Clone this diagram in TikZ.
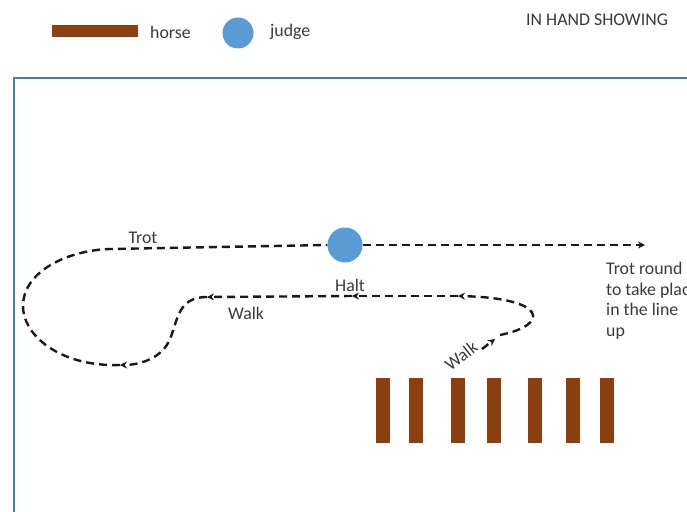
\documentclass[tikz,border=0pt]{standalone}
\usepackage{fontspec}
\setmainfont{Carlito}
\usetikzlibrary{arrows.meta}
\definecolor{horsebrown}{HTML}{8C3F10}
\definecolor{judgeblue}{HTML}{5B9BD5}
\definecolor{framecol}{HTML}{4F7AA8}
\definecolor{txt}{HTML}{3A3A3A}
\tikzset{
  lbl/.style={inner sep=0pt, text=txt, font=\fontsize{17.8}{20.5}\selectfont},
  horsebar/.style={fill=horsebrown, draw=none, minimum width=14pt, minimum height=65pt, inner sep=0pt},
  judgedot/.style={circle, fill=judgeblue, draw=none, inner sep=0pt},
  route/.style={draw=black!90, line width=2.4pt, dash pattern=on 8pt off 5pt},
  routearrow/.style={route, -{Stealth[length=7pt,width=7pt]}},
}
\begin{document}
\begin{tikzpicture}[x=1pt,y=-1pt]
\useasboundingbox (0,0) rectangle (687,511);
\clip (0,0) rectangle (687,511);
\fill[white] (0,0) rectangle (687,511);

% legend
\node[fill=horsebrown, minimum width=86pt, minimum height=12pt, inner sep=0pt] (leghorse) at (95,31) {};
\node[lbl, anchor=west] (leghorsetxt) at (150,32) {horse};
\node[judgedot, minimum size=31pt] (legjudge) at (238,33) {};
\node[lbl, anchor=west] (legjudgetxt) at (270,32) {judge};
\node[lbl, anchor=west] (title) at (526,20) {IN HAND SHOWING};

% arena
\draw[framecol, line width=2pt] (14,540) -- (14,78) -- (720,78);

% judge
\node[judgedot, minimum size=35pt] (J) at (345,245) {};

% route points
\coordinate (w0) at (482,349);
\coordinate (w1) at (495,339);
\coordinate (w2) at (500,335);
\coordinate (a1) at (458,296);
\coordinate (a2) at (352,296);
\coordinate (a3) at (207,297);
\coordinate (a4) at (120,365);
\coordinate (tl) at (110,249);
\coordinate (tend) at (645,245);

\draw[routearrow] (w0) -- (w1);
\draw[routearrow] (w2) .. controls (550,325) and (548,298) .. (a1);
\draw[routearrow] (a1) -- (a2);
\draw[routearrow] (a2) -- (a3);
\draw[routearrow] (a3) .. controls (175,297) and (178,325) .. (168,343)
                       .. controls (160,358) and (140,365) .. (a4);
\draw[route] (a4) .. controls (60,367) and (22,335) .. (23,305)
                  .. controls (24,270) and (70,250) .. (tl) -- (J.west);
\draw[routearrow] (J.east) -- (tend);

% labels
\node[lbl] (ltrot) at (143,238) {Trot};
\node[lbl] (lhalt) at (350,285) {Halt};
\node[lbl] (lwalk) at (246,313) {Walk};
\node[lbl, rotate=38] (lwalk2) at (461,356) {Walk};
\node[lbl, anchor=north west, align=left] (lround) at (606,262)
  {Trot round\\to take place\\in the line\\up};

% horses in the line up
\foreach \i/\x in {1/383,2/416,3/458,4/494,5/535,6/573,7/607}{
  \node[horsebar] (h\i) at (\x,410) {};
}
\end{tikzpicture}
\end{document}
